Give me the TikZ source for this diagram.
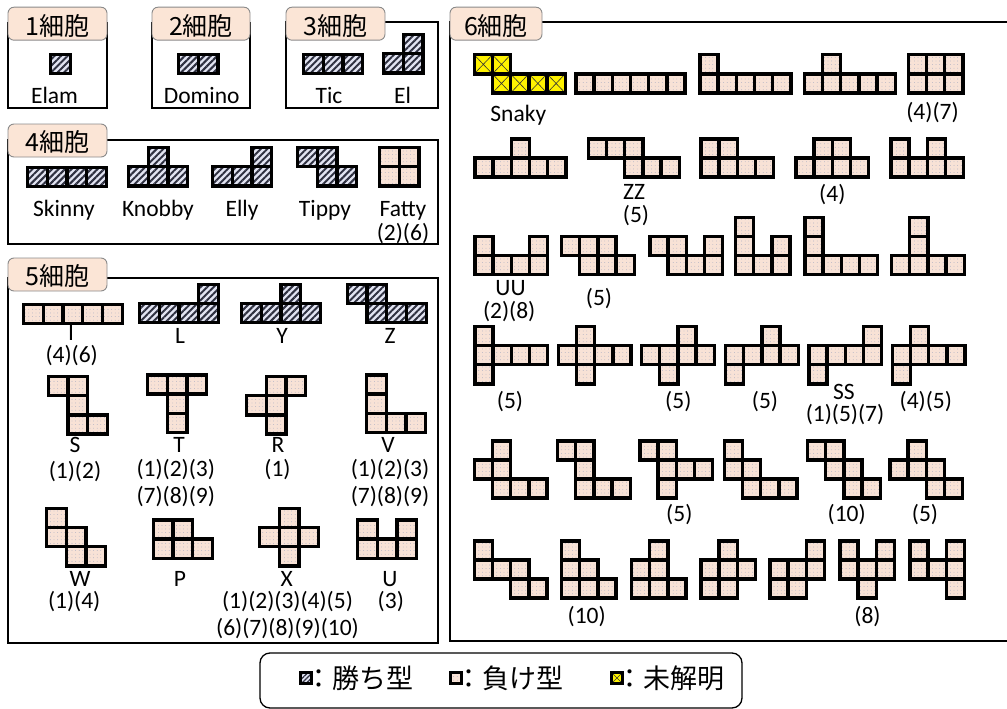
\documentclass[tikz,border=0pt]{standalone}
\usepackage{fontspec}
\setmainfont{Carlito}
\newfontfamily\jp{Noto Sans CJK JP}
\usetikzlibrary{patterns.meta}
\definecolor{peach}{HTML}{F8E2D6}
\definecolor{tabfill}{HTML}{FBE5D6}
\definecolor{hatchbg}{HTML}{E2E4F2}
\definecolor{hatchfg}{HTML}{2E3040}
\definecolor{dotc}{HTML}{A0A6BE}
\definecolor{tabline}{HTML}{8A8A8A}
\newcommand{\poly}[6]{\foreach \c/\r in {#6}{\draw[#1] ({#2+1.5+\c*#4},{#3+1.5+\r*#5}) rectangle ++(#4,#5);}}
\newcommand{\lp}[4]{\poly{#1}{#2}{#3}{19.75}{19.2}{#4}}
\newcommand{\rp}[4]{\poly{#1}{#2}{#3}{18.2}{19.1}{#4}}
\tikzset{
  win/.style={draw=black, line width=3.4pt, preaction={fill=hatchbg}, preaction={pattern={Lines[angle=45,distance=4.6pt,line width=2pt]}, pattern color=hatchfg}},
  lose/.style={draw=black, line width=3.4pt, preaction={fill=peach}, preaction={pattern={Dots[distance=3.6pt,radius=0.4pt]}, pattern color=dotc}},
  unk/.style={draw=black, line width=3.4pt, fill=yellow, path picture={\draw[line width=0.6pt, black!80] (path picture bounding box.north west) -- (path picture bounding box.south east) (path picture bounding box.south west) -- (path picture bounding box.north east);}},
  legwin/.style={draw=black, line width=2.8pt, preaction={fill=hatchbg}, preaction={pattern={Lines[angle=45,distance=3.2pt,line width=1.3pt]}, pattern color=hatchfg}},
  leglose/.style={lose, line width=2.8pt},
  legunk/.style={unk, line width=2.8pt},
  frame/.style={draw=black, line width=1.6pt},
  tab/.style={draw=tabline, line width=0.9pt, fill=tabfill, rounded corners=6pt, font=\jp\fontsize{25}{27}\selectfont, text height=24pt, text depth=1.2pt, inner sep=0pt, minimum height=33pt},
  lab/.style={anchor=base, inner sep=0pt, font=\fontsize{23.5}{26}\selectfont},
  leg/.style={anchor=west, inner sep=0pt, font=\jp\fontsize{27}{29}\selectfont},
}
\begin{document}
\begin{tikzpicture}[x=1pt, y=-1pt]
\useasboundingbox (0,0) rectangle (1007,709);
% frames
\draw[frame] (8,23) rectangle (107,108);
\draw[frame] (152,23) rectangle (250,108);
\draw[frame] (286,22.3) rectangle (438,108);
\draw[frame] (8,140) rectangle (438,244);
\draw[frame] (8,278) rectangle (438,643);
\draw[frame] (450,22.3) rectangle (1030,641);
% tabs
\node[tab, minimum width=99pt] (t1) at (57.5,23.7) {1細胞};
\node[tab, minimum width=98pt] (t2) at (201,23.7) {2細胞};
\node[tab, minimum width=99pt] (t3) at (335.5,23.7) {3細胞};
\node[tab, minimum width=99pt] (t4) at (57.5,140.5) {4細胞};
\node[tab, minimum width=99pt] (t5) at (57.5,274.5) {5細胞};
\node[tab, minimum width=92pt] (t6) at (496,23.7) {6細胞};
% 1-3 cells
\lp{win}{49}{53}{0/0}
\lp{win}{177}{53}{0/0,1/0}
\lp{win}{302}{53}{0/0,1/0,2/0}
\lp{win}{382}{33}{1/0,0/1,1/1}
\node[lab] (elam) at (54.5,103) {Elam};
\node[lab] (domino) at (201.7,103) {Domino};
\node[lab] (tic) at (329,103) {Tic};
\node[lab] (el) at (402.5,103) {El};
% 4 cells
\lp{win}{26}{166}{0/0,1/0,2/0,3/0}
\lp{win}{127}{146}{1/0,0/1,1/1,2/1}
\lp{win}{211}{146}{2/0,0/1,1/1,2/1}
\lp{win}{296}{146}{0/0,1/0,1/1,2/1}
\lp{lose}{378}{146}{0/0,1/0,0/1,1/1}
\node[lab] (skinny) at (64,216.5) {Skinny};
\node[lab] (knobby) at (158,216.5) {Knobby};
\node[lab] (elly) at (242,216.5) {Elly};
\node[lab] (tippy) at (325,216.5) {Tippy};
\node[lab] (fatty) at (403,216.5) {Fatty};
\node[lab] (fattyn) at (403,240.5) {(2)(6)};
% 5 cells
\lp{lose}{22}{302.7}{0/0,1/0,2/0,3/0,4/0}
\lp{win}{138}{282.7}{3/0,0/1,1/1,2/1,3/1}
\lp{win}{240}{282.7}{2/0,0/1,1/1,2/1,3/1}
\lp{win}{345.7}{282.7}{0/0,1/0,1/1,2/1,3/1}
\node[lab] (pI) at (71,340.5) {I};
\node[lab] (pIn) at (71.7,362.5) {(4)(6)};
\node[lab] (pL) at (180,343) {L};
\node[lab] (pY) at (282,343) {Y};
\node[lab] (pZ) at (390,343) {Z};
\lp{lose}{46.7}{375}{0/0,1/0,1/1,1/2,2/2}
\lp{lose}{146}{373.3}{0/0,1/0,2/0,1/1,1/2}
\lp{lose}{245}{375}{1/0,2/0,0/1,1/1,1/2}
\lp{lose}{365}{373.3}{0/0,0/1,0/2,1/2,2/2}
\node[lab] (pS) at (75,452) {S};
\node[lab] (pSn) at (75,478) {(1)(2)};
\node[lab] (pT) at (179,452) {T};
\node[lab] (pTn) at (175.8,476.7) {(1)(2)(3)};
\node[lab] (pTm) at (175.8,503.3) {(7)(8)(9)};
\node[lab] (pR) at (278,452) {R};
\node[lab] (pRn) at (277.5,476.7) {(1)};
\node[lab] (pV) at (388,452) {V};
\node[lab] (pVn) at (390,476.7) {(1)(2)(3)};
\node[lab] (pVm) at (390,503.3) {(7)(8)(9)};
\lp{lose}{45}{506.7}{0/0,0/1,1/1,1/2,2/2}
\lp{lose}{151.7}{518.3}{0/0,1/0,0/1,1/1,2/1}
\lp{lose}{258}{506.7}{1/0,0/1,1/1,2/1,1/2}
\lp{lose}{356}{518.3}{0/0,2/0,0/1,1/1,2/1}
\node[lab] (pW) at (80,586.5) {W};
\node[lab] (pWn) at (74.2,608.5) {(1)(4)};
\node[lab] (pP) at (180,586.5) {P};
\node[lab] (pX) at (286.7,586.5) {X};
\node[lab] (pXn) at (287.5,608.5) {(1)(2)(3)(4)(5)};
\node[lab] (pXm) at (287.5,635) {(6)(7)(8)(9)(10)};
\node[lab] (pU) at (390,586.5) {U};
\node[lab] (pUn) at (390.8,608.5) {(3)};
% 6 cells row 1
\rp{unk}{472.7}{53.3}{0/0,1/0,1/1,2/1,3/1,4/1}
\rp{lose}{574.3}{72.4}{0/0,1/0,2/0,3/0,4/0,5/0}
\rp{lose}{698.3}{53.3}{0/0,0/1,1/1,2/1,3/1,4/1}
\rp{lose}{802.7}{53.3}{1/0,0/1,1/1,2/1,3/1,4/1}
\rp{lose}{906.7}{53.3}{0/0,1/0,2/0,0/1,1/1,2/1}
\node[lab] (snaky) at (518.3,121.5) {Snaky};
\node[lab] (h1n) at (932.5,119.5) {(4)(7)};
% row 2
\rp{lose}{473.3}{137.3}{2/0,0/1,1/1,2/1,3/1,4/1}
\rp{lose}{586.7}{137.3}{0/0,1/0,2/0,2/1,3/1,4/1}
\rp{lose}{699.3}{137.3}{0/0,1/0,0/1,1/1,2/1,3/1}
\rp{lose}{794.3}{137.3}{1/0,2/0,0/1,1/1,2/1,3/1}
\rp{lose}{889.3}{137.3}{0/0,2/0,0/1,1/1,2/1,3/1}
\node[lab] (zz) at (634,199) {ZZ};
\node[lab] (zzn) at (636,222.5) {(5)};
\node[lab] (h2n) at (832.3,201.7) {(4)};
% row 3
\rp{lose}{473.3}{235}{0/0,3/0,0/1,1/1,2/1,3/1}
\rp{lose}{560}{235}{0/0,1/0,2/0,1/1,2/1,3/1}
\rp{lose}{648.3}{235}{0/0,1/0,3/0,1/1,2/1,3/1}
\rp{lose}{734}{215.9}{0/0,0/1,2/1,0/2,1/2,2/2}
\rp{lose}{803.3}{215.9}{0/0,0/1,0/2,1/2,2/2,3/2}
\rp{lose}{890}{215.9}{1/0,1/1,0/2,1/2,2/2,3/2}
\node[lab] (uu) at (510.5,295.5) {UU};
\node[lab] (uun) at (509.2,318) {(2)(8)};
\node[lab] (h3n) at (599,305) {(5)};
% row 4
\rp{lose}{473.3}{325}{0/0,0/1,1/1,2/1,3/1,0/2}
\rp{lose}{556.7}{325}{1/0,0/1,1/1,2/1,3/1,1/2}
\rp{lose}{640}{325}{2/0,0/1,1/1,2/1,3/1,1/2}
\rp{lose}{724}{325}{2/0,0/1,1/1,2/1,3/1,0/2}
\rp{lose}{807.3}{325}{3/0,0/1,1/1,2/1,3/1,0/2}
\rp{lose}{890.7}{325}{1/0,0/1,1/1,2/1,3/1,0/2}
\node[lab] (h4a) at (510,408.3) {(5)};
\node[lab] (h4b) at (678.3,408.3) {(5)};
\node[lab] (h4c) at (765,408.3) {(5)};
\node[lab] (ss) at (844,399.5) {SS};
\node[lab] (ssn) at (845,421.5) {(1)(5)(7)};
\node[lab] (h4d) at (925.8,408.3) {(4)(5)};
% row 5
\rp{lose}{472.7}{439.3}{1/0,0/1,1/1,1/2,2/2,3/2}
\rp{lose}{556}{439.3}{0/0,1/0,1/1,1/2,2/2,3/2}
\rp{lose}{638.3}{439.3}{0/0,1/0,1/1,2/1,3/1,1/2}
\rp{lose}{722.7}{439.3}{0/0,0/1,1/1,1/2,2/2,3/2}
\rp{lose}{806}{439.3}{0/0,1/0,1/1,2/1,2/2,3/2}
\rp{lose}{888.3}{439.3}{1/0,0/1,1/1,2/1,2/2,3/2}
\node[lab] (h5a) at (679.3,521.7) {(5)};
\node[lab] (h5b) at (846.7,521.7) {(10)};
\node[lab] (h5c) at (925,521.7) {(5)};
% row 6
\rp{lose}{472.7}{539.3}{0/0,0/1,1/1,2/1,2/2,3/2}
\rp{lose}{560}{539.3}{0/0,0/1,1/1,0/2,1/2,2/2}
\rp{lose}{630}{539.3}{1/0,0/1,1/1,0/2,1/2,2/2}
\rp{lose}{699.3}{539.3}{1/0,0/1,1/1,2/1,0/2,1/2}
\rp{lose}{768.3}{539.3}{2/0,0/1,1/1,2/1,0/2,1/2}
\rp{lose}{838.3}{539.3}{0/0,2/0,0/1,1/1,2/1,1/2}
\rp{lose}{908.3}{539.3}{0/0,2/0,0/1,1/1,2/1,2/2}
\node[lab] (h6a) at (586.7,623.3) {(10)};
\node[lab] (h6b) at (867.5,623.3) {(8)};
% legend
\draw[line width=1.3pt, rounded corners=10pt] (260,653) rectangle (742,708);
\draw[legwin] (300.4,672.4) rectangle (311.6,683.6);
\node[leg] (lg1) at (305.5,678) {：勝ち型};
\draw[leglose] (450.4,672.4) rectangle (461.6,683.6);
\node[leg] (lg2) at (455,678) {：負け型};
\draw[legunk] (611.4,672.4) rectangle (622.6,683.6);
\node[leg] (lg3) at (616.5,678) {：未解明};
\end{tikzpicture}
\end{document}
